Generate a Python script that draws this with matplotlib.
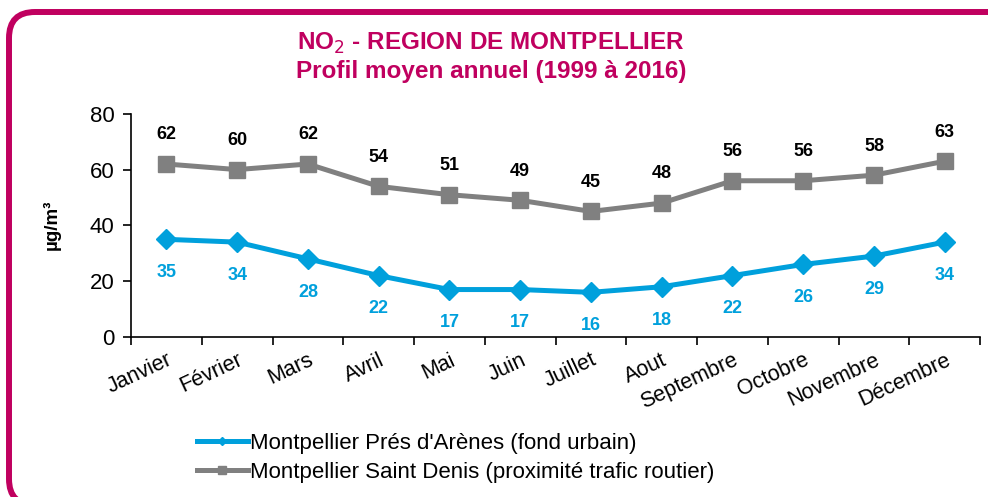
import matplotlib.pyplot as plt
from matplotlib.patches import FancyBboxPatch
from matplotlib.transforms import IdentityTransform
import numpy as np

plt.rcParams['font.family'] = ['Liberation Sans', 'DejaVu Sans']

mois = ['Janvier', 'Février', 'Mars', 'Avril', 'Mai', 'Juin', 'Juillet',
        'Aout', 'Septembre', 'Octobre', 'Novembre', 'Décembre']
pres_arenes = [35, 34, 28, 22, 17, 17, 16, 18, 22, 26, 29, 34]
saint_denis = [62, 60, 62, 54, 51, 49, 45, 48, 56, 56, 58, 63]

magenta = '#C0005F'
bleu = '#00A0DC'
gris = '#808080'

fig = plt.figure(figsize=(9.88, 4.97), dpi=100)

# cadre arrondi, en pixels (depasse a droite et en bas)
cadre = FancyBboxPatch((9, -8), 1015, 493,
                       boxstyle='round,pad=0,rounding_size=26',
                       transform=IdentityTransform(), fill=False,
                       edgecolor=magenta, linewidth=4.3, clip_on=False)
fig.patches.append(cadre)

fig.text(0.497, 0.913, 'NO$_2$ - REGION DE MONTPELLIER', ha='center', va='center',
         color=magenta, fontsize=17.5, fontweight='bold')
fig.text(0.497, 0.857, 'Profil moyen annuel (1999 à 2016)', ha='center', va='center',
         color=magenta, fontsize=17.5, fontweight='bold')

ax = fig.add_axes([0.1326, 0.322, 0.8594, 0.449])
x = np.arange(len(mois)) + 0.5

ax.plot(x, pres_arenes, color=bleu, lw=3.6, marker='D', ms=10,
        label="Montpellier Prés d'Arènes (fond urbain)")
ax.plot(x, saint_denis, color=gris, lw=3.6, marker='s', ms=12,
        label='Montpellier Saint Denis (proximité trafic routier)')

for xi, v in zip(x, pres_arenes):
    ax.annotate(str(v), (xi, v), xytext=(0, -24), textcoords='offset points',
                ha='center', va='center', color=bleu, fontsize=13, fontweight='bold')
for xi, v in zip(x, saint_denis):
    ax.annotate(str(v), (xi, v), xytext=(0, 21), textcoords='offset points',
                ha='center', va='center', color='black', fontsize=13, fontweight='bold')

ax.set_xlim(0, 12)
ax.set_ylim(0, 80)
ax.set_yticks([0, 20, 40, 60, 80])
ax.tick_params(axis='y', labelsize=16, direction='out', length=6, width=1.2, pad=6)
ax.set_xticks(np.arange(13))
ax.set_xticklabels([])
ax.tick_params(axis='x', direction='out', length=6, width=1.2)
ax.spines['top'].set_visible(False)
ax.spines['right'].set_visible(False)
ax.spines['left'].set_linewidth(1.2)
ax.spines['bottom'].set_linewidth(1.2)

for xi, m in zip(x, mois):
    ax.text(xi, -4.5, m, rotation=25, rotation_mode='anchor', ha='right', va='top',
            fontsize=15.5, transform=ax.transData, clip_on=False)

fig.text(0.052, 0.547, 'µg/m³', rotation=90, ha='center', va='center',
         fontsize=13.5, fontweight='bold')

fig.legend(loc='upper left', bbox_to_anchor=(0.19, 0.147), frameon=False,
           fontsize=16, handlelength=2.3, handletextpad=0.12, labelspacing=0.35,
           markerscale=0.45, borderaxespad=0)

fig.savefig('out.png', dpi=100)
